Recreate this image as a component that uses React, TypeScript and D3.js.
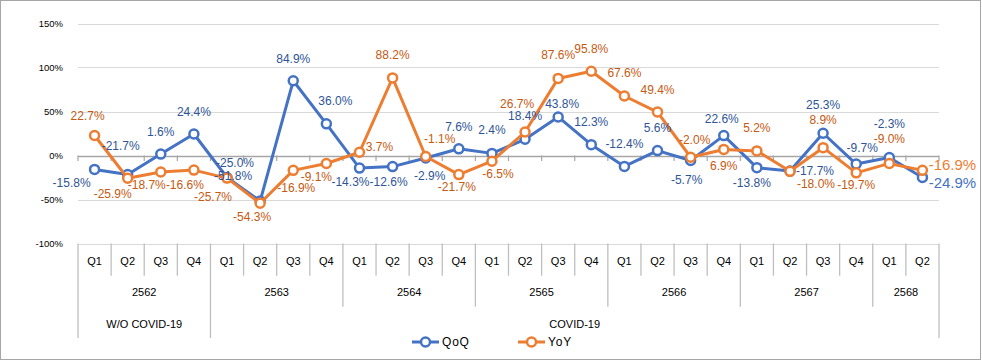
import React from "react";
import * as d3 from "d3";

const years = ["2562", "2563", "2564", "2565", "2566", "2567", "2568"];
const quartersPerYear = [4, 4, 4, 4, 4, 4, 2];
const groupLabels = ["W/O COVID-19", "COVID-19"];
const groupYearCounts = [1, 6];

const qoq = [
  -15.8, -21.7, 1.6, 24.4,
  -25.0, -51.8, 84.9, 36.0,
  -14.3, -12.6, -2.9, 7.6,
  2.4, 18.4, 43.8, 12.3,
  -12.4, 5.6, -5.7, 22.6,
  -13.8, -17.7, 25.3, -9.7,
  -2.3, -24.9,
];
const yoy = [
  22.7, -25.9, -18.7, -16.6,
  -25.7, -54.3, -16.9, -9.1,
  3.7, 88.2, -1.1, -21.7,
  -6.5, 26.7, 87.6, 95.8,
  67.6, 49.4, -2.0, 6.9,
  5.2, -18.0, 8.9, -19.7,
  -9.0, -16.9,
];
const yTicks = [-100, -50, 0, 50, 100, 150];

// label placement (style): [dx, dy] of label centre from point
const qoqLabelOffsets = [
  [-23, 14], [-7, -29], [0, -22], [0, -22],
  [8, -15], [-27, -25], [0, -22], [9, -23],
  [-9, 14], [-4, 15], [4, 18], [0, -22],
  [0, -23], [0, -23], [4, -13], [0, -23],
  [0, -22], [0, -23], [-4, 19], [-2, -17],
  [-5, 15], [25, 0], [0, -28], [6, -16],
  [0, -34], [30, 5],
];
const yoyLabelOffsets = [
  [-7, -20], [-15, 16], [-14, 13], [-9, 15],
  [-14, 19], [-8, 14], [3, 18], [-10, 13],
  [20, -5], [0, -23], [14, -17], [-2, 12],
  [6, 13], [-8, -28], [0, -23], [0, -22],
  [0, -23], [0, -22], [4, -17], [0, 17],
  [0, -23], [26, 13], [0, -28], [0, 12],
  [0, -24], [30, -6],
];

const W = 982;
const H = 362;
const FONT = "'Liberation Sans', Arial, sans-serif";
const BLUE = "#4472C4";
const ORANGE = "#ED7D31";
const BLUE_TXT = "#2F5597";
const ORANGE_TXT = "#C55A11";

export default function App() {
  const quarters: string[] = [];
  years.forEach((_, yi) => {
    for (let q = 0; q < quartersPerYear[yi]; q++) quarters.push(`Q${q + 1}`);
  });
  const idx = quarters.map((_, i) => i);

  const left = 78;
  const right = 939;
  const top = 23.5;
  const bottom = 243.5;

  const x = d3.scaleBand<number>().domain(idx).range([left, right]).padding(0);
  const y = d3.scaleLinear().domain([-100, 150]).range([bottom, top]);
  const bw = x.bandwidth();
  const cx = (i: number) => (x(i) as number) + bw / 2;

  const line = d3
    .line<number>()
    .x((_, i) => cx(i))
    .y((d) => y(d));

  // boundaries
  const yearStarts: number[] = [];
  let acc = 0;
  quartersPerYear.forEach((n) => {
    yearStarts.push(acc);
    acc += n;
  });
  const groupStarts: number[] = [];
  let gacc = 0;
  groupYearCounts.forEach((n) => {
    groupStarts.push(yearStarts[gacc]);
    gacc += n;
  });
  const bx = (k: number) => (k >= quarters.length ? right : (x(k) as number));

  const qRowBottom = 275.7;
  const yRowBottom = 306.7;
  const gRowBottom = 338;

  const fmt = (v: number) => `${v.toFixed(1)}%`;

  const series = [
    { data: qoq, color: BLUE, txt: BLUE_TXT, off: qoqLabelOffsets },
    { data: yoy, color: ORANGE, txt: ORANGE_TXT, off: yoyLabelOffsets },
  ];

  return (
    <svg
      width={W}
      height={H}
      style={{ position: "absolute", left: 0, top: 0, background: "#fff" }}
      fontFamily={FONT}
    >
      <rect x={0.5} y={0.5} width={980} height={359} fill="#fff" stroke="#a6a6a6" />
      {/* gridlines */}
      {yTicks.map((t) => (
        <line
          key={t}
          x1={left}
          x2={right}
          y1={Math.round(y(t)) + 0.5}
          y2={Math.round(y(t)) + 0.5}
          stroke={t === 0 ? "#a6a6a6" : "#d9d9d9"}
          strokeWidth={t === 0 ? 1.5 : 1.2}
        />
      ))}
      {yTicks.map((t) => (
        <text
          key={"l" + t}
          x={63}
          y={y(t)}
          textAnchor="end"
          dominantBaseline="central"
          fontSize={9.5}
          fill="#000"
        >
          {`${t}%`}
        </text>
      ))}
      {/* zero-axis ticks */}
      {d3.range(quarters.length + 1).map((k) => (
        <line
          key={"zt" + k}
          x1={bx(k)}
          x2={bx(k)}
          y1={y(0)}
          y2={y(0) + 5.5}
          stroke="#a6a6a6"
          strokeWidth={1.2}
        />
      ))}
      {/* category axis lines */}
      {d3.range(quarters.length + 1).map((k) => {
        const isGroup = groupStarts.includes(k) || k === quarters.length;
        const isYear = yearStarts.includes(k);
        const yb = isGroup ? gRowBottom : isYear ? yRowBottom : qRowBottom;
        return (
          <line
            key={"cl" + k}
            x1={bx(k)}
            x2={bx(k)}
            y1={bottom}
            y2={yb}
            stroke="#bfbfbf"
            strokeWidth={1.3}
          />
        );
      })}
      {quarters.map((q, i) => (
        <text
          key={"q" + i}
          x={cx(i)}
          y={261}
          textAnchor="middle"
          dominantBaseline="central"
          fontSize={11}
          fill="#000"
        >
          {q}
        </text>
      ))}
      {years.map((yr, yi) => {
        const s = yearStarts[yi];
        const e = s + quartersPerYear[yi];
        return (
          <text
            key={"y" + yr}
            x={(bx(s) + bx(e)) / 2}
            y={292}
            textAnchor="middle"
            dominantBaseline="central"
            fontSize={11}
            fill="#000"
          >
            {yr}
          </text>
        );
      })}
      {groupLabels.map((g, gi) => {
        const s = groupStarts[gi];
        const e = gi + 1 < groupStarts.length ? groupStarts[gi + 1] : quarters.length;
        return (
          <text
            key={"g" + g}
            x={(bx(s) + bx(e)) / 2}
            y={324}
            textAnchor="middle"
            dominantBaseline="central"
            fontSize={11}
            fill="#000"
          >
            {g}
          </text>
        );
      })}
      {/* series */}
      {series.map((s, si) => (
        <g key={"s" + si}>
          <path d={line(s.data) || ""} fill="none" stroke={s.color} strokeWidth={3} strokeLinejoin="round" />
          {s.data.map((v, i) => (
            <circle key={i} cx={cx(i)} cy={y(v)} r={4.5} fill="#fff" stroke={s.color} strokeWidth={2.5} />
          ))}
        </g>
      ))}
      {series.map((s, si) =>
        s.data.map((v, i) => {
          const last = i === s.data.length - 1;
          return (
            <text
              key={`lab${si}-${i}`}
              x={cx(i) + s.off[i][0]}
              y={y(v) + s.off[i][1]}
              textAnchor="middle"
              dominantBaseline="central"
              fontSize={last ? 15 : 12}
              fill={last ? s.color : s.txt}
            >
              {fmt(v)}
            </text>
          );
        })
      )}
      {/* legend */}
      {[
        { name: "QoQ", color: BLUE, x0: 412 },
        { name: "YoY", color: ORANGE, x0: 518 },
      ].map((l) => (
        <g key={l.name}>
          <line x1={l.x0} x2={l.x0 + 27} y1={342} y2={342} stroke={l.color} strokeWidth={3} />
          <circle cx={l.x0 + 13.5} cy={342} r={4.5} fill="#fff" stroke={l.color} strokeWidth={2.5} />
          <text x={l.x0 + 30} y={342} dominantBaseline="central" fontSize={12} letterSpacing={0.8} fill="#000">
            {l.name}
          </text>
        </g>
      ))}
    </svg>
  );
}
